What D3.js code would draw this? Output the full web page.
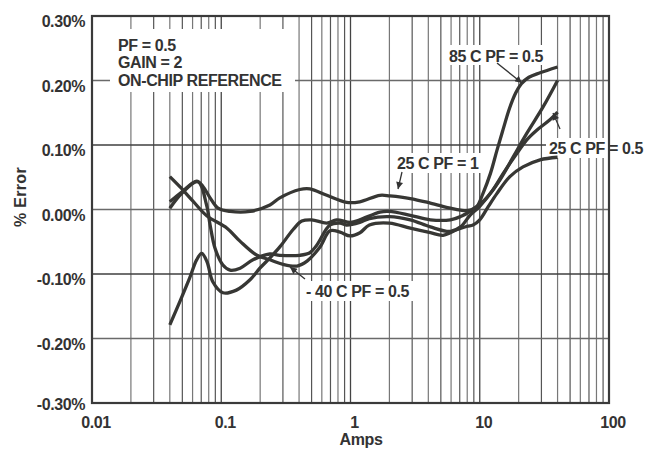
<!DOCTYPE html>
<html><head><meta charset="utf-8">
<script src="https://cdn.jsdelivr.net/npm/d3@7"></script>
<style>
body{margin:0;background:#fff}
text{font-family:"Liberation Sans",Arial,Helvetica,sans-serif;font-weight:bold;fill:#333;letter-spacing:-0.4px;font-size:16px}
</style>
</head><body>
<svg id="c" width="659" height="450"></svg>
<script>
// ---- data ----
const yTicks = [0.3, 0.2, 0.1, 0, -0.1, -0.2, -0.3];
const yTickLabels = ["0.30%", "0.20%", "0.10%", "0.00%", "-0.10%", "-0.20%", "-0.30%"];
const xTicks = [0.01, 0.1, 1, 10, 100];
const xTickLabels = ["0.01", "0.1", "1", "10", "100"];
const seriesNames = ["85 C PF = 0.5", "25 C PF = 0.5", "25 C PF = 1", "- 40 C PF = 0.5"];

const ampsA = [0.04, 0.048, 0.057, 0.0645, 0.0706, 0.0776, 0.086, 0.103, 0.131, 0.167, 0.199, 0.238, 0.284, 0.36, 0.42, 0.5, 0.656, 0.78, 1.0, 1.18, 1.69, 2.0, 2.9, 4.15, 5.94, 7.1, 8.4, 9.47, 10.6, 12.1, 13.6, 15.2, 17, 19, 21, 24, 29.3, 40];
const errA  = [-0.179, -0.142, -0.106, -0.078, -0.068, -0.081, -0.112, -0.129, -0.125, -0.109, -0.091, -0.075, -0.058, -0.031, -0.018, -0.016, -0.021, -0.016, -0.020, -0.016, -0.004, -0.003, -0.009, -0.016, -0.016, -0.011, -0.003, 0.004, 0.025, 0.056, 0.092, 0.125, 0.157, 0.181, 0.195, 0.205, 0.212, 0.221];

const ampsB = [0.04, 0.05, 0.066, 0.077, 0.082, 0.0895, 0.103, 0.117, 0.14, 0.176, 0.238, 0.284, 0.405, 0.485, 0.55, 0.694, 0.83, 0.93, 1.18, 1.4, 2.0, 2.9, 4.15, 5.94, 7.1, 8.4, 10, 12.6, 15.2, 19.4, 23.1, 27.6, 34.9, 40];
const errB  = [0.002, 0.026, 0.043, 0.007, -0.024, -0.060, -0.086, -0.094, -0.091, -0.078, -0.069, -0.071, -0.071, -0.067, -0.055, -0.024, -0.021, -0.024, -0.020, -0.014, -0.011, -0.016, -0.027, -0.034, -0.027, -0.009, 0.005, 0.030, 0.056, 0.087, 0.108, 0.123, 0.139, 0.151];

const ampsC = [0.04, 0.05, 0.0645, 0.072, 0.082, 0.0944, 0.117, 0.167, 0.238, 0.284, 0.405, 0.485, 0.656, 0.934, 1.18, 1.69, 2.02, 2.9, 4.15, 5.94, 7.1, 8.4, 10, 11.3, 14.35, 18.2, 23.1, 30.9, 40];
const errC  = [0.012, 0.028, 0.044, 0.036, 0.018, 0.002, -0.003, -0.003, 0.007, 0.018, 0.031, 0.032, 0.022, 0.011, 0.012, 0.022, 0.021, 0.017, 0.010, 0.002, -0.001, -0.001, 0.008, 0.018, 0.046, 0.082, 0.118, 0.159, 0.200];

const ampsD = [0.04, 0.048, 0.0604, 0.0776, 0.1108, 0.1396, 0.189, 0.2384, 0.3005, 0.3855, 0.461, 0.581, 0.694, 0.83, 0.991, 1.184, 1.4, 2.0, 2.9, 4.15, 5.2, 6.7, 8.0, 8.87, 10, 11.6, 13.6, 17.1, 21.6, 29.3, 40];
const errD  = [0.051, 0.035, 0.013, -0.010, -0.029, -0.049, -0.071, -0.078, -0.085, -0.0876, -0.080, -0.058, -0.033, -0.035, -0.041, -0.036, -0.024, -0.021, -0.029, -0.036, -0.040, -0.031, -0.026, -0.024, -0.016, 0.004, 0.025, 0.051, 0.066, 0.077, 0.081];

const noteLines = ["PF = 0.5", "GAIN = 2", "ON-CHIP REFERENCE"];

// ---- chart ----
const svg = d3.select("#c");
const L = 92, R = 609, T = 16, B = 403;
const x = d3.scaleLog().domain([0.01, 100]).range([L, R]);
const y = d3.scaleLinear().domain([-0.3, 0.3]).range([B, T]);

// vertical grid
const grid = svg.append("g");
const vVals = [];
for (let d = 0.01; d < 100; d *= 10) for (let m = 2; m <= 9; m++) vVals.push(+(d * m).toPrecision(3));
grid.selectAll("line.v").data(vVals).join("line")
  .attr("x1", d => x(d)).attr("x2", d => x(d)).attr("y1", T).attr("y2", B)
  .attr("stroke", (d, i) => (i % 2 ? "#555" : "#777")).attr("stroke-width", 1.2);
grid.selectAll("line.vm").data(xTicks).join("line")
  .attr("x1", d => x(d)).attr("x2", d => x(d)).attr("y1", T).attr("y2", B)
  .attr("stroke", "#444").attr("stroke-width", 1.3);
grid.selectAll("line.h").data(yTicks).join("line")
  .attr("x1", L).attr("x2", R).attr("y1", d => y(d)).attr("y2", d => y(d))
  .attr("stroke", (d, i) => (i % 2 ? "#6a6a6a" : "#3f3f3f")).attr("stroke-width", 1.3);

// white label backgrounds
const boxes = [[110, 29, 185, 63], [446, 45, 108, 20], [546, 138, 106, 20], [394, 153, 90, 20], [303, 281, 114, 20]];
svg.append("g").selectAll("rect").data(boxes).join("rect")
  .attr("x", d => d[0]).attr("y", d => d[1]).attr("width", d => d[2]).attr("height", d => d[3])
  .attr("fill", "#fff");

// curves
const line = d3.line().x(d => x(d[0])).y(d => y(d[1])).curve(d3.curveCatmullRom.alpha(0.5));
const series = [[ampsA, errA], [ampsB, errB], [ampsC, errC], [ampsD, errD]];
svg.append("g").selectAll("path").data(series).join("path")
  .attr("d", s => line(s[0].map((a, i) => [a, s[1][i]])))
  .attr("fill", "none").attr("stroke", "#373734").attr("stroke-width", 3.3)
  .attr("stroke-linejoin", "round").attr("stroke-linecap", "butt");

// frame
svg.append("rect").attr("x", L).attr("y", T).attr("width", R - L).attr("height", B - T)
  .attr("fill", "none").attr("stroke", "#3a3a3a").attr("stroke-width", 2.2);

// axes labels
svg.append("g").selectAll("text").data(yTicks).join("text")
  .attr("x", 85).attr("y", (d, i) => y(d) + (i === yTicks.length - 1 ? 6.5 : 11))
  .attr("text-anchor", "end").text((d, i) => yTickLabels[i]);
svg.append("g").selectAll("text").data(xTicks).join("text")
  .attr("x", d => x(d) + 4).attr("y", 428)
  .attr("text-anchor", "middle").text((d, i) => xTickLabels[i]);
svg.append("text").attr("x", 361).attr("y", 445).attr("text-anchor", "middle").text("Amps");
svg.append("text").attr("transform", "translate(26,197) rotate(-90)").attr("text-anchor", "middle")
  .style("letter-spacing", "0.3px").text("% Error");

// note
svg.append("g").selectAll("text").data(noteLines).join("text")
  .attr("x", 118).attr("y", (d, i) => 51 + i * 17.3).text(d => d);

// series labels
const labelPos = [[449, 62], [549, 154], [397, 169], [306, 297]];
svg.append("g").selectAll("text").data(seriesNames).join("text")
  .attr("x", (d, i) => labelPos[i][0]).attr("y", (d, i) => labelPos[i][1]).text(d => d);

// arrows
svg.append("defs").append("marker").attr("id", "ah")
  .attr("viewBox", "0 0 10 10").attr("refX", 10).attr("refY", 5)
  .attr("markerWidth", 8).attr("markerHeight", 7).attr("markerUnits", "userSpaceOnUse")
  .attr("orient", "auto").append("path").attr("d", "M0,0L10,5L0,10z").attr("fill", "#333");
const arrows = [[497, 63, 522, 83], [560, 129, 553, 113], [402, 172, 398, 189], [305, 279, 290, 267]];
svg.append("g").selectAll("line").data(arrows).join("line")
  .attr("x1", d => d[0]).attr("y1", d => d[1]).attr("x2", d => d[2]).attr("y2", d => d[3])
  .attr("stroke", "#333").attr("stroke-width", 1.3).attr("marker-end", "url(#ah)");
</script>
</body></html>
